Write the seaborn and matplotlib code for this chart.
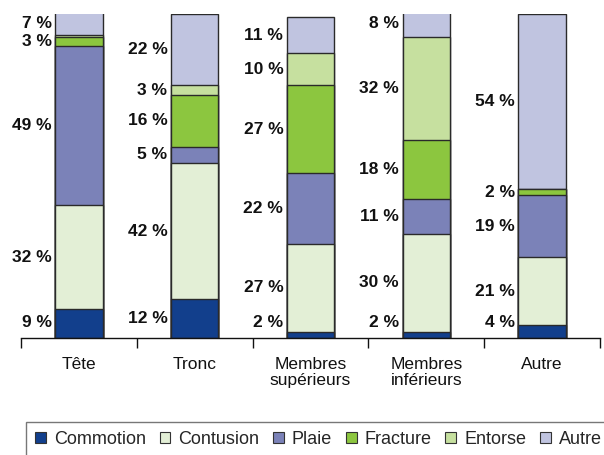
import numpy as np
import pandas as pd
import matplotlib.pyplot as plt
from matplotlib.patches import Patch
import seaborn as sns

# Data: share of each injury type per body region (%)
regions = ['Tête', 'Tronc', 'Membres\nsupérieurs', 'Membres\ninférieurs', 'Autre']
types = ['Commotion', 'Contusion', 'Plaie', 'Fracture', 'Entorse', 'Autre']
commotion = [9, 12, 2, 2, 4]
contusion = [32, 42, 27, 30, 21]
plaie = [49, 5, 22, 11, 19]
fracture = [3, 16, 27, 18, 2]
entorse = [0.5, 3, 10, 32, 0]
autre = [7, 22, 11, 8, 54]

colors = ['#123f8c', '#e3efd6', '#7b82b8', '#8cc63f', '#c6e09f', '#c0c4e0']

series = [commotion, contusion, plaie, fracture, entorse, autre]
df = pd.DataFrame(dict(zip(types, series)), index=regions)
cum = df.cumsum(axis=1)

sns.set_theme(style="white")
plt.rcParams['font.family'] = ['Liberation Sans', 'DejaVu Sans']

fig = plt.figure(figsize=(6.04, 4.55), dpi=100)
ax = fig.add_axes([21 / 604, 117 / 455, 579 / 604, 324 / 455])

# stacked bars: draw cumulative totals from top layer down
for t, c in zip(reversed(types), reversed(colors)):
    sns.barplot(x=regions, y=cum[t].values, color=c, saturation=1, width=0.41,
                edgecolor='#2a2a2a', linewidth=1, ax=ax)

# percentage labels to the left of each segment
for i, reg in enumerate(regions):
    lower = 0
    for t in types:
        v = df.loc[reg, t]
        if v >= 1:
            yc = max(lower + v / 2, 4.8)
            ax.text(i - 0.235, yc, f'{v:g} %', ha='right', va='center',
                    fontsize=12.5, fontweight='bold', color='#111111')
        lower += v

ax.set_xlim(-0.5, 4.5)
ax.set_ylim(0, 100)
ax.set_yticks([])
ax.set_ylabel('')
for s in ['left', 'right', 'top']:
    ax.spines[s].set_visible(False)
ax.spines['bottom'].set_color('#111111')
ax.spines['bottom'].set_linewidth(1)

ax.set_xticks(range(len(regions)))
ax.set_xticklabels(regions, fontsize=12.5, color='#111111', linespacing=1.05)
ax.set_xticks(np.arange(-0.5, 5, 1), minor=True)
ax.tick_params(axis='x', which='major', length=0, pad=14)
ax.tick_params(axis='x', which='minor', length=7, width=1, color='#111111',
               direction='out', bottom=True)

handles = [Patch(facecolor=c, edgecolor='#333333', linewidth=0.8) for c in colors]
leg = fig.legend(handles, types, loc='upper left', bbox_to_anchor=(26 / 604, 1 - 422 / 455),
                 ncol=6, fontsize=13, frameon=True, fancybox=False,
                 handlelength=0.6, handleheight=0.6, handletextpad=0.45,
                 columnspacing=0.75, borderpad=0.5, borderaxespad=0)
leg.get_frame().set_edgecolor('#555555')
leg.get_frame().set_linewidth(1)

fig.savefig('out.png', dpi=100)
